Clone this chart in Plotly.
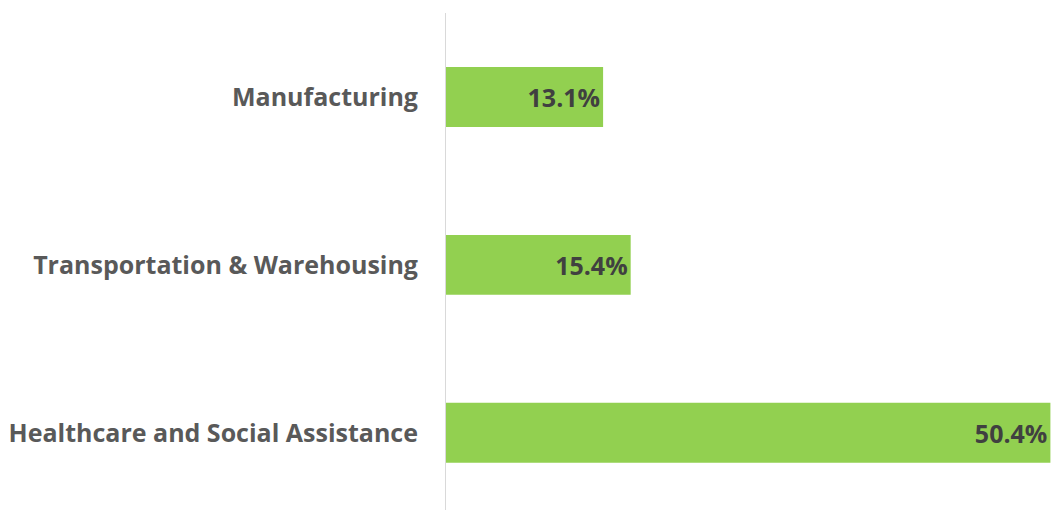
import plotly.graph_objects as go

categories = ["Healthcare and Social Assistance", "Transportation & Warehousing", "Manufacturing"]
values = [50.4, 15.4, 13.1]
labels = ["50.4%", "15.4%", "13.1%"]

fig = go.Figure(go.Bar(
    y=categories,
    x=values,
    orientation="h",
    text=labels,
    textposition="inside",
    insidetextanchor="end",
    constraintext="none",
    textfont=dict(family="Open Sans", size=25, color="#404040", weight="bold"),
    marker=dict(color="#92D050", line=dict(width=0)),
    width=0.357,
    cliponaxis=True,
))

fig.update_layout(
    width=1051, height=510,
    margin=dict(l=446, r=0, t=13, b=0),
    paper_bgcolor="white", plot_bgcolor="white",
    showlegend=False,
    font=dict(family="Open Sans"),
    xaxis=dict(range=[0, 50.45], showgrid=False, zeroline=False, showticklabels=False, showline=False),
    yaxis=dict(range=[-0.46, 2.5], showgrid=False, zeroline=False, showline=True,
               linecolor="#d9d9d9", linewidth=1, ticks="",
               ticklabelstandoff=22,
               tickfont=dict(family="Open Sans", size=25, color="#595959", weight="bold")),
)

fig.write_html(
    "out.html",
    config={"displayModeBar": False},
    post_script="document.body.style.margin='0';document.body.style.overflow='hidden';document.documentElement.style.overflow='hidden';",
)
